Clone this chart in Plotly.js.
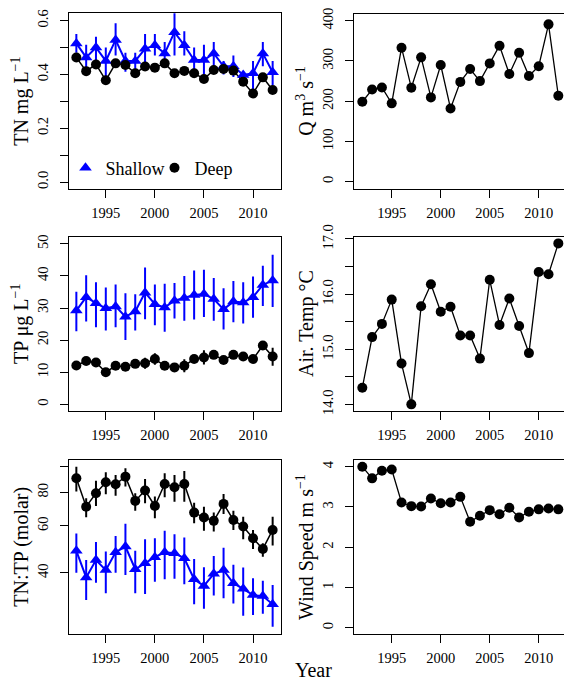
<!DOCTYPE html>
<html><head><meta charset="utf-8">
<script src="https://cdn.plot.ly/plotly-3.0.1.min.js"></script>
<style>html,body{margin:0;padding:0;background:#fff}#chart{width:564px;height:682px}</style>
</head><body><div id="chart"></div>
<script>
// ---------------- data ----------------
const years = [1992,1993,1994,1995,1996,1997,1998,1999,2000,2001,2002,2003,2004,2005,2006,2007,2008,2009,2010,2011,2012];
const xTickVals = [1995,2000,2005,2010];

const tnShallow   = [0.515,0.463,0.500,0.450,0.528,0.450,0.450,0.495,0.508,0.478,0.557,0.508,0.453,0.453,0.478,0.430,0.430,0.398,0.404,0.478,0.408];
const tnShallowHi = [0.55,0.51,0.54,0.50,0.59,0.48,0.48,0.55,0.55,0.52,0.63,0.56,0.50,0.51,0.52,0.45,0.47,0.41,0.45,0.52,0.45];
const tnShallowLo = [0.48,0.42,0.45,0.38,0.47,0.41,0.42,0.44,0.47,0.44,0.47,0.47,0.40,0.40,0.43,0.40,0.39,0.36,0.34,0.43,0.36];
const tnDeep      = [0.463,0.412,0.437,0.378,0.441,0.435,0.404,0.429,0.425,0.441,0.404,0.413,0.404,0.383,0.416,0.420,0.414,0.373,0.329,0.389,0.342];
const tnDeepHi    = [0.475,0.423,0.448,0.390,0.452,0.446,0.415,0.440,0.436,0.452,0.415,0.424,0.415,0.394,0.427,0.431,0.425,0.384,0.340,0.400,0.353];
const tnDeepLo    = [0.451,0.401,0.426,0.366,0.430,0.424,0.393,0.418,0.414,0.430,0.393,0.402,0.393,0.372,0.405,0.409,0.403,0.362,0.318,0.378,0.331];

const discharge   = [198.7,229,234,194.6,333,233.5,309,209.5,290,182,248,280,250,294,338,267.5,320.5,262.5,287,391,213.6];

const tpShallow   = [29.2,33.4,31.5,29.9,30.5,27.3,28.9,34.8,31.2,30.2,32.3,33.1,34.1,34.4,32.8,29.6,32.0,31.7,33.4,37.2,38.6];
const tpShallowHi = [35.1,40.2,38.0,36.4,37.3,34.6,34.3,42.6,37.3,37.6,37.8,40.0,41.7,41.9,39.4,36.2,38.4,38.0,39.8,43.2,46.6];
const tpShallowLo = [22.8,25.8,24.0,23.0,24.0,20.0,23.0,26.5,24.6,22.6,26.7,26.0,26.4,27.2,26.0,23.3,25.6,25.2,27.0,30.6,30.3];
const tpDeep      = [12.1,13.5,13.0,10.0,12.0,11.7,12.6,12.8,14.1,12.0,11.5,12.0,14.1,14.6,15.4,13.8,15.4,14.9,14.1,18.3,14.9];
const tpDeepHi    = [13.0,14.4,14.0,11.0,13.0,12.6,13.6,14.5,15.9,13.2,12.5,14.0,15.3,16.8,16.6,14.8,16.5,15.9,15.1,19.3,17.6];
const tpDeepLo    = [11.2,12.6,12.0,9.1,11.0,10.8,11.6,11.1,12.3,10.8,10.5,10.0,12.9,12.4,14.2,12.8,14.3,13.9,13.1,17.3,12.0];

const airTemp     = [14.30,15.22,15.46,15.90,14.74,14.00,15.78,16.18,15.68,15.77,15.25,15.25,14.83,16.26,15.44,15.92,15.42,14.93,16.40,16.36,16.92];

const ratioShallow   = [48.4,38.5,44.7,41.0,47.8,50.2,41.3,43.5,45.8,47.8,47.4,45.4,37.9,35.8,39.7,41.0,36.6,34.9,33.1,32.8,30.6];
const ratioShallowHi = [56.2,44.7,52.2,48.1,55.0,61.0,48.4,53.4,53.9,57.5,55.8,54.2,45.1,42.0,46.3,49.7,42.9,41.9,38.2,37.4,36.1];
const ratioShallowLo = [40.1,31.7,36.8,33.6,40.1,39.3,33.6,33.4,37.1,37.9,38.1,36.3,30.6,29.4,33.0,32.2,30.8,27.7,27.9,28.2,25.2];
const ratioDeep      = [90.2,70.7,79.3,87.2,85.7,91.5,74.3,81.2,71.1,85.9,83.5,85.9,67.2,64.4,62.6,72.4,63.1,59.6,53.9,49.2,57.9];
const ratioDeepHi    = [99.7,76.0,88.4,95.0,92.9,98.3,79.3,89.7,77.1,94.2,92.9,96.1,73.2,70.7,67.2,78.9,68.3,64.9,57.9,51.6,64.9];
const ratioDeepLo    = [80.5,64.5,71.1,78.6,77.7,84.0,68.3,72.8,64.0,76.6,73.8,73.8,61.3,57.5,57.1,66.4,57.9,53.4,49.2,46.0,50.6];

const windSpeed   = [4.00,3.71,3.90,3.93,3.11,3.02,3.01,3.21,3.09,3.11,3.25,2.63,2.78,2.92,2.82,2.98,2.74,2.88,2.94,2.96,2.94];

// tick values (labelled) and unlabelled minor ticks
const tnTicks = [0,0.2,0.4,0.6];
const tnTickText = ['0.0','0.2','0.4','0.6'];
const tnMinor = [0.1,0.3,0.5];
const qTicks = [0,100,200,300,400];
const tpTicks = [0,10,20,30,40,50];
const tempTicks = [14,15,16,17];
const tempTickText = ['14.0','15.0','16.0','17.0'];
const tempMinor = [14.5,15.5,16.5];
const ratioTicks = [40,60,80];
const ratioMinor = [100];
const windTicks = [0,1,2,3,4];

const seriesNames = ['Shallow','Deep'];
const yTitles = ['TN mg L<sup>\u22121</sup>','Q m<sup>3</sup> s<sup>\u22121</sup>','TP \u03bcg L<sup>\u22121</sup>',
                 'Air. Temp \u00b0C','TN:TP (molar)','Wind Speed m s<sup>\u22121</sup>'];
const xLabel = 'Year';

// ---------------- layout helpers ----------------
const W = 564, H = 682;
const FONT = 'Liberation Serif, Times New Roman, Times, serif';
const BLUE = '#0000ff', BLACK = '#000000';
const fx = p => p / W;
const fy = p => 1 - p / H;

// pixel boxes [left,right] [top,bottom]
const boxes = {
  1: {x:[68.5,280.5], y:[13.3,189.0]},
  2: {x:[353.5,564],  y:[13.5,188.5]},
  3: {x:[68.5,280.5], y:[236.5,411.0]},
  4: {x:[353.5,564],  y:[236.5,410.7]},
  5: {x:[68.5,280.5], y:[459.5,634.0]},
  6: {x:[353.5,564],  y:[460.0,634.0]}
};

const traces = [];
function suffix(n){ return n === 1 ? '' : String(n); }

function addLine(n, y, color, width){
  traces.push({type:'scatter', mode:'lines', x:years, y:y, xaxis:'x'+suffix(n), yaxis:'y'+suffix(n),
    line:{color:color, width:width}, showlegend:false, hoverinfo:'skip'});
}
function addPoints(n, y, hi, lo, color, symbol, size, name, legendId){
  const t = {type:'scatter', mode:'markers', x:years, y:y, xaxis:'x'+suffix(n), yaxis:'y'+suffix(n),
    marker:{color:color, symbol:symbol, size:size, line:{width:0}}, name:name || '',
    showlegend: !!legendId, cliponaxis:false};
  if (legendId) t.legend = legendId;
  if (hi && lo){
    t.error_y = {type:'data', symmetric:false,
      array: hi.map((h,i) => h - y[i]), arrayminus: lo.map((l,i) => y[i] - l),
      color:color, thickness:2, width:0};
  }
  traces.push(t);
}

// Panel 1: TN
addLine(1, tnShallow, BLUE, 2);
addLine(1, tnDeep, BLACK, 1.5);
addPoints(1, tnShallow, tnShallowHi, tnShallowLo, BLUE, 'triangle-up', 11, seriesNames[0], 'legend');
addPoints(1, tnDeep, tnDeepHi, tnDeepLo, BLACK, 'circle', 10, seriesNames[1], 'legend2');
// Panel 2: Q
addLine(2, discharge, BLACK, 1.3);
addPoints(2, discharge, null, null, BLACK, 'circle', 10);
// Panel 3: TP
addLine(3, tpShallow, BLUE, 2);
addLine(3, tpDeep, BLACK, 1.5);
addPoints(3, tpShallow, tpShallowHi, tpShallowLo, BLUE, 'triangle-up', 11);
addPoints(3, tpDeep, tpDeepHi, tpDeepLo, BLACK, 'circle', 10);
// Panel 4: Air temp
addLine(4, airTemp, BLACK, 1.3);
addPoints(4, airTemp, null, null, BLACK, 'circle', 10);
// Panel 5: TN:TP
addLine(5, ratioDeep, BLACK, 1.5);
addLine(5, ratioShallow, BLUE, 2);
addPoints(5, ratioDeep, ratioDeepHi, ratioDeepLo, BLACK, 'circle', 10);
addPoints(5, ratioShallow, ratioShallowHi, ratioShallowLo, BLUE, 'triangle-up', 11);
// Panel 6: wind
addLine(6, windSpeed, BLACK, 1.3);
addPoints(6, windSpeed, null, null, BLACK, 'circle', 10);

const leftXRange = [1991.2, 2012.8];
const rightXRange = [1991.1, 1991.1 + (564 - 353.5) / 9.8];

const yCfg = {
  1: {range:[-0.026,0.627], tickvals:tnTicks, ticktext:tnTickText, minorVals:tnMinor},
  2: {range:[-17,418], tickvals:qTicks},
  3: {range:[-2.1,52.3], tickvals:tpTicks},
  4: {range:[13.885,17.045], tickvals:tempTicks, ticktext:tempTickText, minorVals:tempMinor},
  5: {range:[1.3745,2.0254], tickvals:ratioTicks, type:'log', minorVals:ratioMinor},
  6: {range:[-0.157,4.166], tickvals:windTicks}
};

const layout = {
  width:W, height:H, margin:{l:0,r:0,t:0,b:0},
  paper_bgcolor:'#ffffff', plot_bgcolor:'#ffffff',
  font:{family:FONT, color:'#000', size:14.5},
  showlegend:true,
  legend:{x:fx(65.5), y:fy(168), xanchor:'left', yanchor:'middle', orientation:'h',
    font:{family:FONT, size:18, color:'#000'}, bgcolor:'rgba(0,0,0,0)', borderwidth:0, itemwidth:30},
  legend2:{x:fx(154.5), y:fy(168), xanchor:'left', yanchor:'middle', orientation:'h',
    font:{family:FONT, size:18, color:'#000'}, bgcolor:'rgba(0,0,0,0)', borderwidth:0, itemwidth:30},
  annotations:[{text:xLabel, xref:'paper', yref:'paper', x:fx(313), y:fy(670), xanchor:'center', yanchor:'middle',
    showarrow:false, font:{family:FONT, size:20, color:'#000'}}]
};

for (let n = 1; n <= 6; n++){
  const b = boxes[n];
  const right = (n % 2 === 0);
  layout['xaxis'+suffix(n)] = {
    domain:[fx(b.x[0]), fx(b.x[1])], anchor:'y'+suffix(n),
    range: right ? rightXRange : leftXRange, tickvals:xTickVals, ticktext:xTickVals.map(String),
    showline:true, linecolor:'#000', linewidth:1, mirror:true,
    ticks:'outside', ticklen:8, tickwidth:1, tickcolor:'#000', ticklabelstandoff:3,
    showgrid:false, zeroline:false, tickfont:{family:FONT, size:14.5, color:'#000'}
  };
  const c = yCfg[n];
  const ax = {
    domain:[fy(b.y[1]), fy(b.y[0])], anchor:'x'+suffix(n),
    showline:true, linecolor:'#000', linewidth:1, mirror: right ? false : true,
    ticks:'outside', ticklen:8, tickwidth:1, tickcolor:'#000', tickangle:-90, ticklabelstandoff:6,
    showgrid:false, zeroline:false, tickfont:{family:FONT, size:14.5, color:'#000'},
    title:{text:yTitles[n-1], font:{family:FONT, size:20, color:'#000'}, standoff:0},
    range:c.range, tickvals:c.tickvals
  };
  if (c.ticktext) ax.ticktext = c.ticktext;
  if (c.type) ax.type = c.type;
  if (c.minorVals) ax.minor = {tickvals:c.minorVals, ticks:'outside', ticklen:8, tickwidth:1, tickcolor:'#000', showgrid:false};
  layout['yaxis'+suffix(n)] = ax;
}

Plotly.newPlot('chart', traces, layout, {staticPlot:true, displayModeBar:false});
</script>
</body></html>
